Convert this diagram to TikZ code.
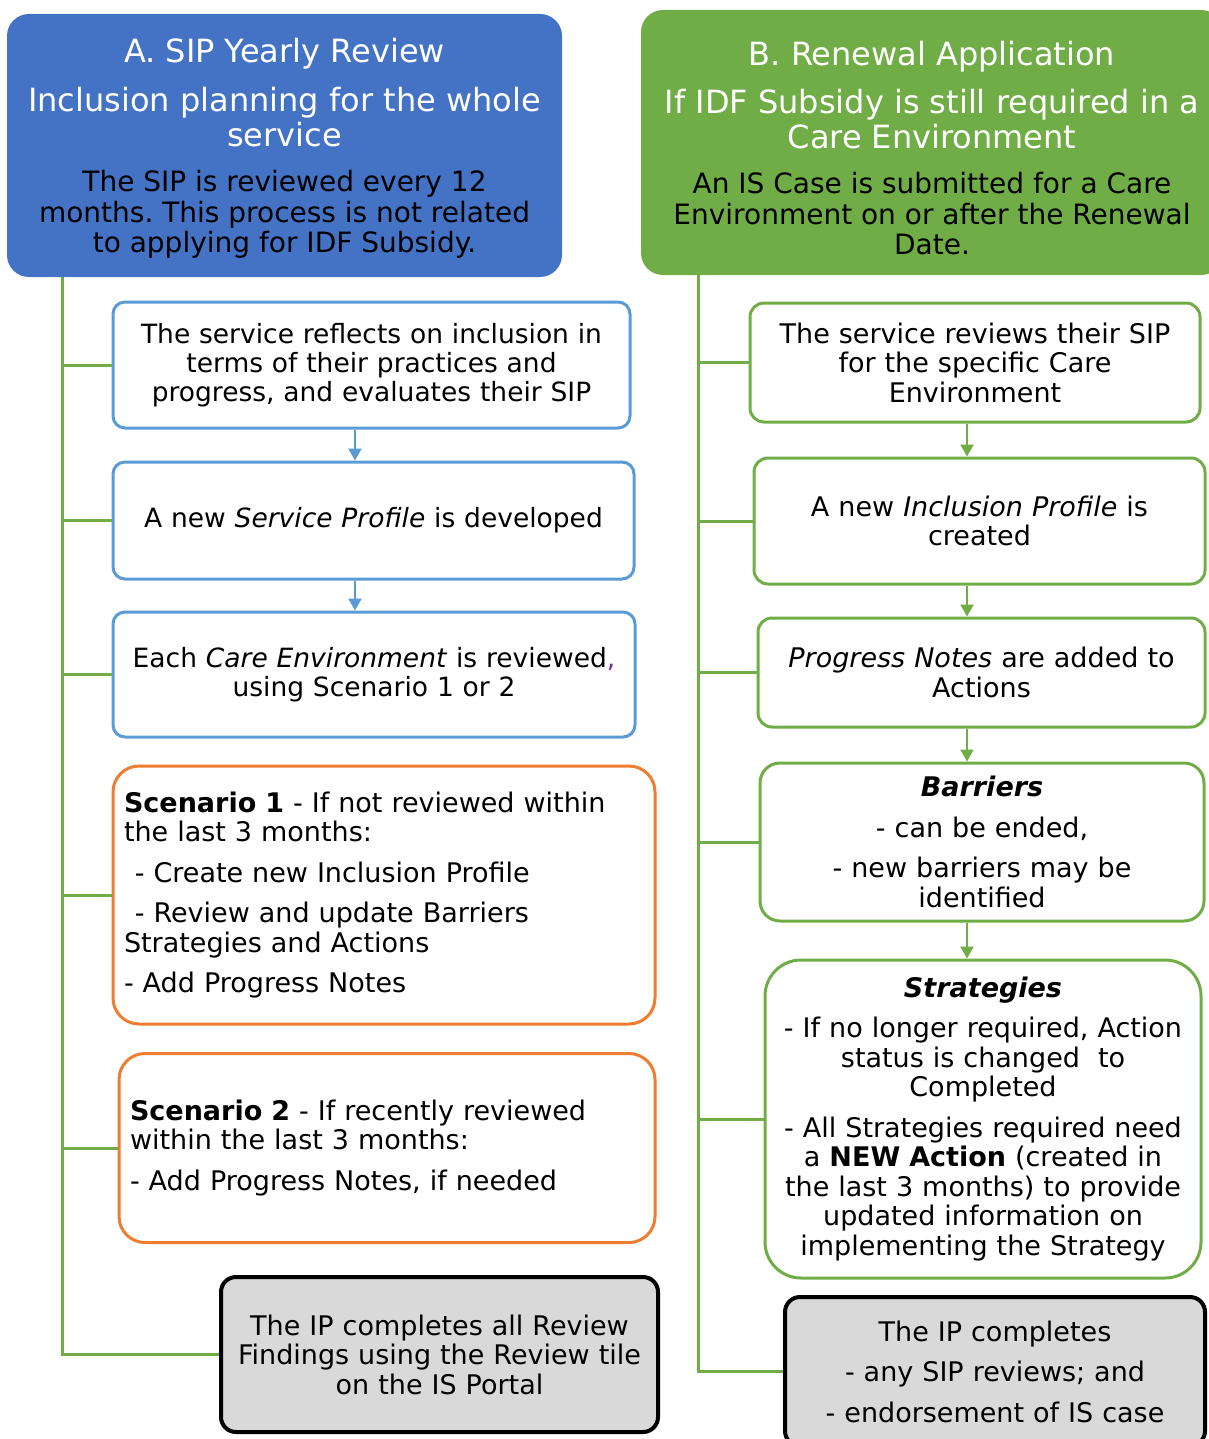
\documentclass[tikz,border=0pt]{standalone}
\usepackage{fontspec}
\setmainfont{DejaVu Sans}[BoldFont={* Bold},ItalicFont={* Oblique},BoldItalicFont={* Bold Oblique}]
\usetikzlibrary{arrows.meta}
\definecolor{hblue}{HTML}{4472C4}
\definecolor{hgreen}{HTML}{70AD47}
\definecolor{bblue}{HTML}{5B9BD5}
\definecolor{borange}{HTML}{ED7D31}
\definecolor{bgray}{HTML}{D9D9D9}
\definecolor{cpurple}{HTML}{7030A0}
\newcommand{\hdrbig}{\fontsize{32}{35}\selectfont\spaceskip=\fontdimen2\font\xspaceskip=\fontdimen2\font\relax}
\newcommand{\hdrsmall}{\fontsize{28}{30.5}\selectfont\spaceskip=\fontdimen2\font\xspaceskip=\fontdimen2\font\relax}
\tikzset{
  hdr/.style={rounded corners=22pt, inner sep=5pt, align=center, font=\fontsize{32}{35}\selectfont},
  bluebox/.style={draw=bblue, line width=3pt, rounded corners=12pt, fill=white, inner sep=5pt, align=center, font=\fontsize{26.5}{29}\selectfont},
  grnbox/.style={draw=hgreen, line width=3pt, rounded corners=14pt, fill=white, inner sep=5pt, align=center, font=\fontsize{27}{29.5}\selectfont},
  orbox/.style={draw=borange, line width=3pt, rounded corners=26pt, fill=white, inner sep=11pt, align=left, font=\fontsize{27}{29.5}\selectfont},
  graybox/.style={draw=black, line width=4pt, rounded corners=15pt, fill=bgray, inner sep=5pt, align=center, font=\fontsize{27}{29.5}\selectfont},
  conn/.style={draw=hgreen, line width=3pt},
  barrow/.style={draw=bblue, line width=2.2pt, -{Triangle[width=13pt,length=12pt]}},
  garrow/.style={draw=hgreen, line width=2.2pt, -{Triangle[width=13pt,length=12pt]}},
}
\begin{document}
\begin{tikzpicture}[x=1pt,y=-1pt]
\useasboundingbox (0,0) rectangle (1208,1439);

% ---------- Column A ----------
\node[hdr, fill=hblue, minimum width=555pt, minimum height=263pt, text width=545pt] (hA) at (284.5,145.5)
 {\color{white}\hdrbig\rule{0pt}{30.3pt}A. SIP Yearly Review\par\vspace{14pt}
  Inclusion planning for the whole\\ service\par\vspace{15pt}
  \color{black}\hdrsmall The SIP is reviewed every 12\\ months. This process is not related\\ to applying for IDF Subsidy.\par};

\node[bluebox, minimum width=517pt, minimum height=126pt, text width=507pt] (b1) at (371.5,365)
 {The service reflects on inclusion in\\ terms of their practices and\\ progress, and evaluates their SIP};
\node[bluebox, minimum width=521pt, minimum height=117pt, text width=511pt] (b2) at (373.5,520.5)
 {A new \textit{Service Profile} is developed};
\node[bluebox, minimum width=522pt, minimum height=125pt, text width=512pt] (b3) at (374,674.5)
 {Each \textit{Care Environment} is reviewed{\color{cpurple},}\\ using Scenario 1 or 2};
\node[orbox, minimum width=542pt, minimum height=258pt, text width=520pt] (s1) at (384,895)
 {\textbf{Scenario 1} - If not reviewed within\\ the last 3 months:\\[11pt]
  \hspace*{0.4em}- Create new Inclusion Profile\\[11pt]
  \hspace*{0.4em}- Review and update Barriers\\ Strategies and Actions\\[11pt]
  - Add Progress Notes};
\node[orbox, minimum width=536pt, minimum height=189pt, text width=514pt] (s2) at (387,1148)
 {\textbf{Scenario 2} - If recently reviewed\\ within the last 3 months:\\[11pt]
  - Add Progress Notes, if needed};
\node[graybox, minimum width=437pt, minimum height=155pt, text width=427pt] (gA) at (439.5,1354.5)
 {The IP completes all Review\\ Findings using the Review tile\\ on the IS Portal};

\coordinate (xA) at (62,0);
\coordinate (tA) at (hA.south -| xA);
\draw[conn] (tA) |- (gA.west);
\foreach \n in {b1,b2,b3,s1,s2} \draw[conn] (\n.west -| tA) -- (\n.west);

\coordinate (xa) at (355,0);
\draw[barrow] (b1.south -| xa) -- (b2.north -| xa);
\draw[barrow] (b2.south -| xa) -- (b3.north -| xa);

% ---------- Column B ----------
\node[hdr, fill=hgreen, minimum width=582pt, minimum height=265pt, text width=572pt] (hB) at (932,142.5)
 {\color{white}\hdrbig\rule{0pt}{35.3pt}B. Renewal Application\par\vspace{13pt}
  If IDF Subsidy is still required in a\\ Care Environment\par\vspace{15pt}
  \color{black}\hdrsmall An IS Case is submitted for a Care\\ Environment on or after the Renewal\\ Date.\par};

\node[grnbox, minimum width=450pt, minimum height=119pt, text width=440pt] (r1) at (975,362.5)
 {The service reviews their SIP\\ for the specific Care\\ Environment};
\node[grnbox, minimum width=451pt, minimum height=126pt, text width=441pt] (r2) at (979.5,521)
 {A new \textit{Inclusion Profile} is\\ created};
\node[grnbox, minimum width=447pt, minimum height=109pt, text width=437pt] (r3) at (981.5,672.5)
 {\textit{Progress Notes} are added to\\ Actions};
\node[grnbox, rounded corners=20pt, minimum width=444pt, minimum height=158pt, text width=434pt] (r4) at (982,842)
 {\textbf{\textit{Barriers}}\\[11pt] - can be ended,\\[11pt] - new barriers may be\\ identified};
\node[grnbox, rounded corners=36pt, minimum width=434pt, minimum height=318pt, text width=426pt] (r5) at (983,1119)
 {\textbf{\textit{Strategies}}\\[11pt]
  - If no longer required, Action\\ status is changed\ \ to\\ Completed\\[11pt]
  - All Strategies required need\\ a \textbf{NEW Action} (created in\\ the last 3 months) to provide\\ updated information on\\ implementing the Strategy};
\node[graybox, minimum width=420pt, minimum height=149pt, text width=410pt] (gB) at (995,1371.5)
 {The IP completes\\[11pt] - any SIP reviews; and\\[11pt] - endorsement of IS case};

\coordinate (xB) at (698,0);
\coordinate (tB) at (hB.south -| xB);
\draw[conn] (tB) |- (gB.west);
\foreach \n in {r1,r2,r3,r4,r5} \draw[conn] (\n.west -| tB) -- (\n.west);

\coordinate (xb) at (967,0);
\draw[garrow] (r1.south -| xb) -- (r2.north -| xb);
\draw[garrow] (r2.south -| xb) -- (r3.north -| xb);
\draw[garrow] (r3.south -| xb) -- (r4.north -| xb);
\draw[garrow] (r4.south -| xb) -- (r5.north -| xb);
\end{tikzpicture}
\end{document}
